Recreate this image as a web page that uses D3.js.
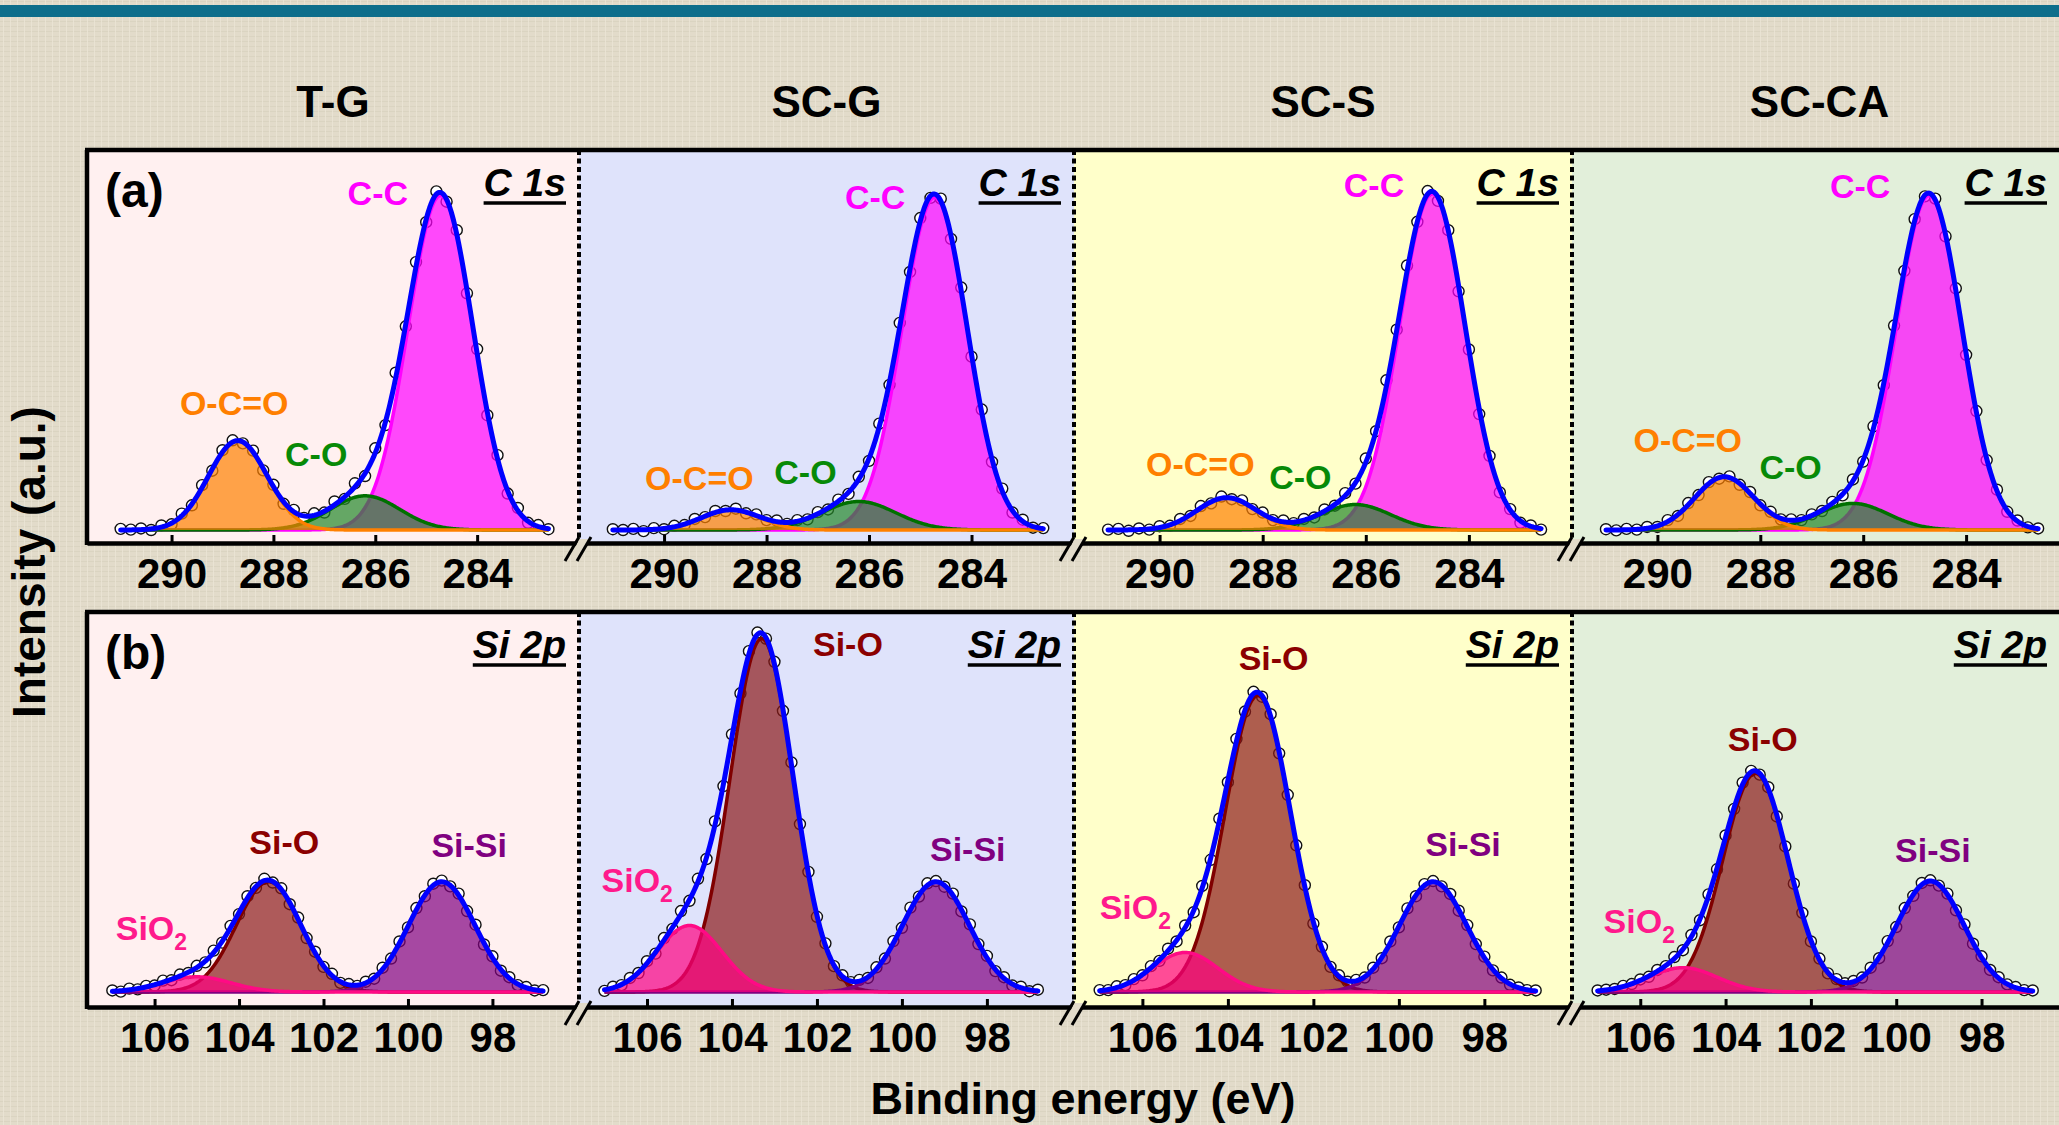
<!DOCTYPE html>
<html>
<head>
<meta charset="utf-8">
<script src="https://cdn.jsdelivr.net/npm/d3@7"></script>
<style>
  body { margin: 0; background: #e2dbca; }
  svg { display: block; font-family: "Liberation Sans", Arial, sans-serif; }
</style>
</head>
<body>
<svg id="chart"></svg>
<script>
const W = 2059, H = 1125;

// samples (columns)
const samples = ["T-G", "SC-G", "SC-S", "SC-CA"];

// tick labels
const c1sTicks = [290, 288, 286, 284];
const si2pTicks = [106, 104, 102, 100, 98];

// measured C 1s intensity, 291.0 -> 282.6 eV, 0.2 eV step
const c1sEnergy = d3.range(43).map(i => +(291.0 - 0.2 * i).toFixed(1));
const c1sTG   = [0.3,0.1,0.4,0.0,1.2,1.5,4.3,6.5,11.8,15.6,21.0,23.6,22.8,20.9,15.7,11.9,6.9,5.3,3.2,4.4,4.6,7.5,8.2,12.3,14.2,21.5,27.6,41.4,53.6,70.5,81.0,89.1,86.4,78.9,62.3,47.6,30.2,19.7,9.6,5.8,1.9,1.3,0.2];
const c1sSCG  = [0.2,0.0,0.3,-0.3,0.5,0.2,1.1,1.3,2.9,3.4,5.0,5.0,5.6,4.4,4.1,2.6,2.5,1.6,2.6,2.8,4.7,5.4,8.0,9.5,14.0,18.2,28.0,38.2,54.5,67.9,82.1,87.4,87.2,76.6,63.8,45.6,31.7,17.9,10.9,4.6,2.7,0.6,0.5];
const c1sSCS  = [0.1,0.3,-0.2,0.4,0.1,1.0,1.1,2.9,3.7,6.3,7.0,8.8,8.1,7.8,5.5,4.6,2.6,2.5,1.8,2.9,3.3,5.4,6.4,9.7,12.2,18.8,26.0,39.4,52.7,69.6,81.1,89.2,86.6,78.9,62.8,47.5,30.5,19.5,9.9,5.5,1.9,1.2,0.1];
const c1sSCCA = [0.2,-0.1,0.3,0.1,0.8,0.8,2.6,3.7,7.1,9.2,12.6,13.5,14.1,11.9,10.0,6.5,4.8,2.8,2.8,2.6,4.1,5.0,7.4,9.1,13.3,18.0,27.3,38.1,53.8,68.2,81.8,87.8,87.2,77.3,63.6,46.1,31.3,18.4,10.6,4.8,2.5,0.7,0.4];

// measured Si 2p intensity, 107.0 -> 96.8 eV, 0.2 eV step
const si2pEnergy = d3.range(52).map(i => +(107.0 - 0.2 * i).toFixed(1));
const si2pTG   = [0.4,0.1,0.9,0.7,1.6,1.7,3.0,3.1,4.6,5.0,6.9,7.8,10.9,13.0,17.4,20.5,25.2,27.4,29.8,28.8,27.3,23.1,19.6,14.2,10.6,6.6,4.8,2.4,2.1,1.6,2.7,3.5,6.4,8.8,13.3,17.0,22.1,25.2,28.5,29.3,27.8,25.9,21.3,17.7,12.5,9.4,5.6,3.9,1.8,1.3,0.4,0.5];
const si2pSCG  = [0.3,1.4,1.8,3.7,5.0,8.1,10.1,14.2,16.6,21.3,24.0,29.8,35.0,44.9,54.2,67.8,78.6,89.7,94.6,93.0,86.9,74.0,60.4,44.2,31.6,19.8,12.8,6.8,4.4,2.6,3.2,3.7,6.5,8.8,13.4,16.9,22.2,25.1,28.6,29.2,27.7,25.9,21.2,17.8,12.6,9.5,5.5,3.9,1.7,1.4,0.2,0.6];
const si2pSCS  = [0.5,0.5,1.5,1.8,3.4,4.4,6.8,8.2,11.4,13.3,17.5,21.0,27.9,34.8,45.6,55.2,66.6,73.8,79.0,77.7,73.1,62.8,51.9,38.6,28.1,18.0,11.9,6.6,4.4,2.7,3.2,3.8,6.4,8.9,13.3,17.0,22.0,25.2,28.4,29.2,27.8,25.8,21.4,17.6,12.6,9.3,5.7,3.8,1.9,1.2,0.5,0.4];
const si2pSCCA = [0.4,0.6,0.8,1.6,2.1,3.3,4.0,5.8,6.8,9.2,11.0,15.0,18.9,25.7,32.3,41.2,48.2,55.1,58.2,57.2,53.9,46.2,38.3,28.5,20.8,13.3,8.8,4.9,3.4,2.3,2.9,3.8,6.4,8.9,13.4,17.1,22.1,25.3,28.7,29.4,28.0,25.9,21.5,17.8,12.7,9.4,5.8,3.9,2.0,1.3,0.5,0.4];

// fitted peaks, one value per sample: centre (eV), FWHM (eV), height
const ccCenter  = [284.72, 284.72, 284.71, 284.72];
const ccFwhm    = [1.5, 1.5, 1.5, 1.5];
const ccHeight  = [88, 87.5, 88.5, 88];
const coCenter  = [286.2, 286.2, 286.2, 286.2];
const coFwhm    = [1.6, 1.7, 1.6, 1.6];
const coHeight  = [9, 7.5, 6.7, 7];
const ocoCenter = [288.7, 288.7, 288.7, 288.7];
const ocoFwhm   = [1.35, 1.35, 1.35, 1.35];
const ocoHeight = [23.5, 5.3, 8.5, 14];

const sioCenter  = [103.3, 103.3, 103.3, 103.3];
const sioFwhm    = [1.8, 1.75, 1.8, 1.8];
const sioHeight  = [29, 93, 78, 57.5];
const sisiCenter = [99.2, 99.2, 99.2, 99.2];
const sisiFwhm   = [1.85, 1.85, 1.85, 1.85];
const sisiHeight = [29, 29, 29, 29.2];
const sio2Center = [105.0, 105.0, 105.0, 105.0];
const sio2Fwhm   = [1.9, 1.8, 1.8, 1.9];
const sio2Height = [4, 17.5, 10.4, 6.4];

// label anchors [energy, intensity] per sample
const ccLabel   = [[285.95, 85.5], [285.88, 84.6], [285.84, 87.6], [286.06, 87.3]];
const coLabel   = [[287.16, 16.8], [287.24, 12.1], [287.27, 10.8], [287.41, 13.3]];
const ocoLabel  = [[288.77, 30.3], [289.31, 10.6], [289.21, 14.1], [289.41, 20.6]];
const sioLabel  = [[102.93, 36.3], [101.27, 88.3], [102.93, 84.7], [103.13, 63.3]];
const sisiLabel = [[98.55, 35.4], [98.45, 34.6], [98.5, 35.8], [99.14, 34.2]];
const sio2Label = [[106.92, 13.8], [107.07, 26.4], [107.0, 19.3], [106.86, 15.6]];

// ---------- layout ----------
const colEdges = [87, 579, 1074, 1572, 2069];
const panelBg = ["#fff0f0", "#dfe3fb", "#ffffca", "#e2efda"];
const bgColor = "#e2dbca";

const rows = [
  { top: 150, axis: 543, base: 13, domain: [291.66, 282.0], ticks: c1sTicks, letter: "(a)",
    tag: ["C", " 1s"], energy: c1sEnergy,
    measured: [c1sTG, c1sSCG, c1sSCS, c1sSCCA],
    comps: [
      { name: "C-C", c: ccCenter, w: ccFwhm, h: ccHeight, fill: "#ff00ff", stroke: "#ff00ff", text: "#ff00ff", pos: ccLabel },
      { name: "C-O", c: coCenter, w: coFwhm, h: coHeight, fill: "#23882a", stroke: "#007000", text: "#078a07", pos: coLabel },
      { name: "O-C=O", c: ocoCenter, w: ocoFwhm, h: ocoHeight, fill: "#ff8000", stroke: "#ff8000", text: "#ff7f00", pos: ocoLabel }
    ] },
  { top: 612, axis: 1007, base: 15, domain: [107.6, 95.95], ticks: si2pTicks, letter: "(b)",
    tag: ["Si", " 2p"], energy: si2pEnergy,
    measured: [si2pTG, si2pSCG, si2pSCS, si2pSCCA],
    comps: [
      { name: "Si-O", c: sioCenter, w: sioFwhm, h: sioHeight, fill: "#8b1a1a", stroke: "#800000", text: "#8b0000", pos: sioLabel },
      { name: "Si-Si", c: sisiCenter, w: sisiFwhm, h: sisiHeight, fill: "#800080", stroke: "#800080", text: "#800080", pos: sisiLabel },
      { name: "SiO2", c: sio2Center, w: sio2Fwhm, h: sio2Height, fill: "#ff0080", stroke: "#ff0a85", text: "#ff1a8c", pos: sio2Label, sub: true }
    ] }
];

const svg = d3.select("#chart").attr("width", W).attr("height", H);

// paper texture
const defs = svg.append("defs");
const pat = defs.append("pattern").attr("id", "linen")
  .attr("width", 7).attr("height", 5).attr("patternUnits", "userSpaceOnUse");
pat.append("rect").attr("width", 7).attr("height", 5).attr("fill", bgColor);
pat.append("rect").attr("x", 0).attr("y", 1).attr("width", 7).attr("height", 1).attr("fill", "#d6ceba").attr("opacity", 0.6);
pat.append("rect").attr("x", 3).attr("y", 0).attr("width", 1).attr("height", 5).attr("fill", "#ebe5d6").attr("opacity", 0.8);
svg.append("rect").attr("width", W).attr("height", H).attr("fill", "url(#linen)");

// top teal band
svg.append("rect").attr("x", 0).attr("y", 5).attr("width", W).attr("height", 12).attr("fill", "#0e6e8b");

// column titles
samples.forEach((s, i) => {
  svg.append("text")
    .attr("x", (colEdges[i] + Math.min(colEdges[i + 1], W)) / 2 + (i === 3 ? 4 : 0))
    .attr("y", 117)
    .attr("text-anchor", "middle")
    .attr("font-size", 44).attr("font-weight", "bold")
    .text(s);
});

const gauss = (e, c, w, h) => h * Math.exp(-4 * Math.LN2 * (e - c) * (e - c) / (w * w));

rows.forEach(row => {
  const e0 = row.energy[0], e1 = row.energy[row.energy.length - 1];
  const grid = d3.range(401).map(i => e0 + (e1 - e0) * i / 400);

  samples.forEach((s, ci) => {
    const x0 = colEdges[ci], x1 = colEdges[ci + 1];
    const x = d3.scaleLinear().domain(row.domain).range([x0, x1]);
    const y = d3.scaleLinear().domain([0, 100]).range([row.axis - row.base, row.top]);
    const g = svg.append("g");

    g.append("rect")
      .attr("x", x0).attr("y", row.top)
      .attr("width", x1 - x0).attr("height", row.axis - row.top)
      .attr("fill", panelBg[ci]);

    // measured points (under the fills)
    const pts = row.energy.map((e, i) => [e, row.measured[ci][i]]);
    g.selectAll("circle.pt").data(pts).enter().append("circle")
      .attr("class", "pt")
      .attr("cx", d => x(d[0])).attr("cy", d => y(d[1]))
      .attr("r", 5.5)
      .attr("fill", "#fff").attr("stroke", "#111").attr("stroke-width", 1.4);

    // components
    row.comps.forEach(cp => {
      const vals = grid.map(e => [e, gauss(e, cp.c[ci], cp.w[ci], cp.h[ci])]);
      g.append("path").datum(vals)
        .attr("d", d3.area().x(d => x(d[0])).y0(y(0)).y1(d => y(d[1])))
        .attr("fill", cp.fill).attr("fill-opacity", 0.7);
      g.append("path").datum(vals)
        .attr("d", d3.line().x(d => x(d[0])).y(d => y(d[1])))
        .attr("fill", "none").attr("stroke", cp.stroke).attr("stroke-width", 3.5);
    });

    // envelope
    const env = grid.map(e => [e, d3.sum(row.comps, cp => gauss(e, cp.c[ci], cp.w[ci], cp.h[ci]))]);
    g.append("path").datum(env)
      .attr("d", d3.line().x(d => x(d[0])).y(d => y(d[1])))
      .attr("fill", "none").attr("stroke", "#0000ff").attr("stroke-width", 5)
      .attr("stroke-linejoin", "round").attr("stroke-linecap", "round");

    // component labels
    row.comps.forEach(cp => {
      const p = cp.pos[ci];
      const t = g.append("text")
        .attr("x", x(p[0])).attr("y", y(p[1]))
        .attr("text-anchor", cp.sub ? "start" : "middle")
        .attr("font-size", 34).attr("font-weight", "bold")
        .attr("fill", cp.text);
      if (cp.sub) {
        t.append("tspan").text("SiO");
        t.append("tspan").attr("font-size", 23).attr("dy", 10).text("2");
      } else {
        t.text(cp.name);
      }
    });

    // core-level tag, underlined
    const right = Math.min(x1, 2060) - 13;
    const tag = g.append("text")
      .attr("x", right).attr("y", row.top + 46)
      .attr("text-anchor", "end")
      .attr("font-size", 39).attr("font-weight", "bold").attr("font-style", "italic");
    tag.append("tspan").text(row.tag[0]);
    tag.append("tspan").text(row.tag[1]);
    const bb = tag.node().getBBox();
    g.append("line")
      .attr("x1", bb.x).attr("x2", bb.x + bb.width)
      .attr("y1", row.top + 53).attr("y2", row.top + 53)
      .attr("stroke", "#000").attr("stroke-width", 3.5);

    // bottom axis for this column
    const ax = svg.append("g")
      .attr("transform", `translate(0,${row.axis})`)
      .call(d3.axisBottom(x).tickValues(row.ticks).tickSizeInner(-8).tickSizeOuter(0).tickPadding(15));
    ax.select(".domain").attr("stroke", "#000").attr("stroke-width", 4.5);
    ax.selectAll(".tick line").attr("stroke", "#000").attr("stroke-width", 3);
    ax.selectAll(".tick text")
      .attr("font-size", 42).attr("font-weight", "bold")
      .attr("font-family", "Liberation Sans, Arial, sans-serif").attr("fill", "#000");
  });

  // dotted dividers
  for (let ci = 1; ci < 4; ci++) {
    svg.append("line")
      .attr("x1", colEdges[ci]).attr("x2", colEdges[ci])
      .attr("y1", row.top).attr("y2", row.axis)
      .attr("stroke", "#000").attr("stroke-width", 4).attr("stroke-dasharray", "5,3.5");
  }

  // frame: top and left
  svg.append("line").attr("x1", 85).attr("x2", W).attr("y1", row.top).attr("y2", row.top)
    .attr("stroke", "#000").attr("stroke-width", 4.5);
  svg.append("line").attr("x1", 87).attr("x2", 87).attr("y1", row.top).attr("y2", row.axis + 2)
    .attr("stroke", "#000").attr("stroke-width", 4.5);

  // axis break marks
  for (let ci = 1; ci < 4; ci++) {
    const bx = colEdges[ci], by = row.axis;
    svg.append("polygon")
      .attr("points", `${bx - 8},${by + 14} ${bx + 2},${by + 14} ${bx + 10},${by - 4} ${bx},${by - 4}`)
      .attr("fill", bgColor);
    [-10, 2].forEach(o => {
      svg.append("line")
        .attr("x1", bx + o - 4).attr("y1", by + 18)
        .attr("x2", bx + o + 10).attr("y2", by - 6)
        .attr("stroke", "#000").attr("stroke-width", 3);
    });
  }

  // panel letter
  svg.append("text").attr("x", 105).attr("y", row.top + 57)
    .attr("font-size", 48).attr("font-weight", "bold").text(row.letter);
});

// axis titles
svg.append("text")
  .attr("x", 1083).attr("y", 1114)
  .attr("text-anchor", "middle")
  .attr("font-size", 45).attr("font-weight", "bold")
  .text("Binding energy (eV)");

svg.append("text")
  .attr("transform", "translate(45,562) rotate(-90)")
  .attr("text-anchor", "middle")
  .attr("font-size", 46).attr("font-weight", "bold")
  .text("Intensity (a.u.)");
</script>
</body>
</html>
